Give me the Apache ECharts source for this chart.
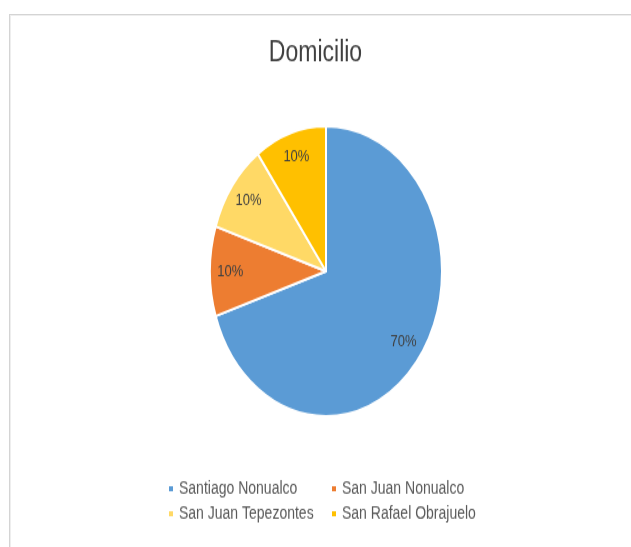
<!DOCTYPE html>
<html>
<head>
<meta charset="utf-8">
<script src="https://cdn.jsdelivr.net/npm/echarts@6/dist/echarts.min.js"></script>
<style>
  html, body { margin: 0; padding: 0; background: #fff; }
  /* marco gris del gráfico original */
  #frame {
    position: absolute; left: 9px; top: 14px; right: 0; bottom: 0;
    border-left: 1px solid #d4d4d4; border-top: 1px solid #d4d4d4;
    box-shadow: inset 1px 1px 0 #eeeeee;
  }
  /* la imagen original está estirada en vertical, por eso el scaleY */
  #chart {
    position: absolute; left: 0; top: 0;
    width: 631px; height: 438px;
    transform: scaleY(1.25); transform-origin: 0 0;
  }
</style>
</head>
<body>
<div id="frame"></div>
<div id="chart"></div>
<script>
// datos
const categories = ['Santiago Nonualco', 'San Juan Nonualco', 'San Juan Tepezontes', 'San Rafael Obrajuelo']
const values = [70, 10, 10, 10]
const colorList = ['#5b9bd5', '#ed7d31', '#ffd966', '#ffc000']

const pieData = categories.map((name, i) => ({ name: name, value: values[i] }))

const myChart = echarts.init(document.getElementById('chart'))
const center = [326, 217]
const radius = 116

const option = {
  animation: false,
  color: colorList,
  title: {
    text: 'Domicilio',
    left: 'center',
    top: 26,
    textStyle: {
      fontFamily: 'Liberation Sans',
      fontSize: 23,
      fontWeight: 'normal',
      color: '#404040'
    }
  },
  legend: {
    data: categories,
    left: 162,
    top: 379,
    width: 340,
    icon: 'rect',
    itemWidth: 6,
    itemHeight: 6,
    itemGap: 6,
    textStyle: {
      fontFamily: 'Liberation Sans',
      fontSize: 14,
      color: '#595959',
      width: 145,
      lineHeight: 14
    }
  },
  series: [
    {
      // tarta principal
      type: 'pie',
      center: center,
      radius: [0, radius],
      startAngle: 90,
      clockwise: true,
      data: pieData,
      label: { show: false },
      labelLine: { show: false },
      itemStyle: {
        borderColor: '#fff',
        borderWidth: 2
      },
      emphasis: { disabled: true }
    },
    {
      // anillo transparente solo para colocar las etiquetas a 0.8 del radio
      type: 'pie',
      center: center,
      radius: [radius * 0.6, radius],
      startAngle: 90,
      clockwise: true,
      silent: true,
      data: pieData,
      itemStyle: { color: 'transparent', borderWidth: 0 },
      label: {
        show: true,
        position: 'inside',
        formatter: '{d}%',
        fontFamily: 'Liberation Sans',
        fontSize: 13,
        color: '#404040'
      },
      labelLine: { show: false },
      emphasis: { disabled: true }
    }
  ]
}
myChart.setOption(option)
</script>
</body>
</html>
